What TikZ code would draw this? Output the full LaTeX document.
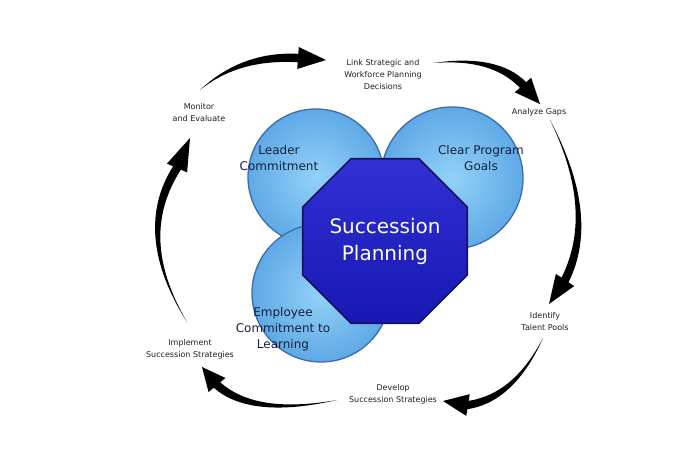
\documentclass[tikz,border=0pt]{standalone}
\usepackage{fontspec}
\setmainfont{DejaVu Sans}
\usetikzlibrary{shapes.geometric,calc}

\definecolor{bubblein}{HTML}{93D2F8}
\definecolor{bubbleout}{HTML}{5FA9E6}
\definecolor{bubbleedge}{HTML}{3D6BB0}
\definecolor{octtop}{HTML}{3030D4}
\definecolor{octbot}{HTML}{1818B4}
\definecolor{octedge}{HTML}{14145E}
\definecolor{bubbletext}{HTML}{17203A}
\definecolor{labeltext}{HTML}{1E1E1E}

% tapered curved arrow: tail, control, head base, tip
\newcommand{\cyclearrow}[4]{%
  \coordinate (ca) at ($(#1)!0.667!(#2)$);
  \coordinate (cb) at ($(#3)!0.667!(#2)$);
  \fill (#1) .. controls ($(ca)!1.6pt!90:(cb)$) and ($(cb)!4.2pt!90:(#3)$)
    .. ($(#3)!4.2pt!90:(#4)$)
    -- ($(#3)!11pt!90:(#4)$) -- (#4) -- ($(#3)!11pt!-90:(#4)$)
    -- ($(#3)!4.2pt!-90:(#4)$)
    .. controls ($(cb)!4.2pt!-90:(#3)$) and ($(ca)!1.6pt!-90:(cb)$) .. (#1) -- cycle;}

\begin{document}
\begin{tikzpicture}[x=1pt,y=-1pt,
  bubble/.style={circle,draw=bubbleedge,line width=1.3pt,
    inner color=bubblein,outer color=bubbleout,minimum size=#1,inner sep=0pt},
  bubbletxt/.style={align=center,text=bubbletext,font=\fontsize{12}{16}\selectfont},
  cyclelabel/.style={align=center,text=labeltext,font=\fontsize{8}{12}\selectfont}]
	\useasboundingbox (0,0) rectangle (700,450);

	% overlapping circles
	\node[bubble=136pt] (leadercirc) at (316,177) {};
	\node[bubble=142pt] (goalscirc) at (452,178) {};
	\node[bubble=138pt] (learncirc) at (321,293) {};

	% centre octagon
	\node[regular polygon,regular polygon sides=8,minimum size=178pt,inner sep=0pt,
		draw=octedge,line width=1.6pt,top color=octtop,bottom color=octbot,
		text=white,align=center,font=\fontsize{20}{27}\selectfont]
		(plan) at (385,241) {Succession\\Planning};

	\node[bubbletxt] (leader) at (279,158) {Leader\\Commitment};
	\node[bubbletxt] (goals) at (481,158) {Clear Program\\Goals};
	\node[bubbletxt] (learn) at (283,329) {Employee\\Commitment to\\Learning};

	% cycle steps
	\node[cyclelabel] (link) at (383,75) {Link Strategic and\\Workforce Planning\\Decisions};
	\node[cyclelabel] (gaps) at (539,112) {Analyze Gaps};
	\node[cyclelabel] (pools) at (545,322) {Identify\\Talent Pools};
	\node[cyclelabel] (develop) at (393,394) {Develop\\Succession Strategies};
	\node[cyclelabel] (implement) at (190,349) {Implement\\Succession Strategies};
	\node[cyclelabel] (monitor) at (199,113) {Monitor\\and Evaluate};

	% arrows round the cycle
	\coordinate (ml1) at (200,90);  \coordinate (ml2) at (240,55);
	\coordinate (ml3) at (298,58);  \coordinate (ml4) at (326,60);
	\coordinate (lg1) at (433,63);  \coordinate (lg2) at (495,56);
	\coordinate (lg3) at (523,85);  \coordinate (lg4) at (540,104);
	\coordinate (gp1) at (550,120); \coordinate (gp2) at (598,214);
	\coordinate (gp3) at (565,280); \coordinate (gp4) at (549,304);
	\coordinate (pd1) at (543,338); \coordinate (pd2) at (514,398);
	\coordinate (pd3) at (468,405); \coordinate (pd4) at (443,401);
	\coordinate (di1) at (337,400); \coordinate (di2) at (253,417);
	\coordinate (di3) at (217,385); \coordinate (di4) at (202,367);
	\coordinate (im1) at (187,322); \coordinate (im2) at (134,235);
	\coordinate (im3) at (177,168); \coordinate (im4) at (190,138);

	\cyclearrow{ml1}{ml2}{ml3}{ml4}
	\cyclearrow{lg1}{lg2}{lg3}{lg4}
	\cyclearrow{gp1}{gp2}{gp3}{gp4}
	\cyclearrow{pd1}{pd2}{pd3}{pd4}
	\cyclearrow{di1}{di2}{di3}{di4}
	\cyclearrow{im1}{im2}{im3}{im4}
\end{tikzpicture}
\end{document}
